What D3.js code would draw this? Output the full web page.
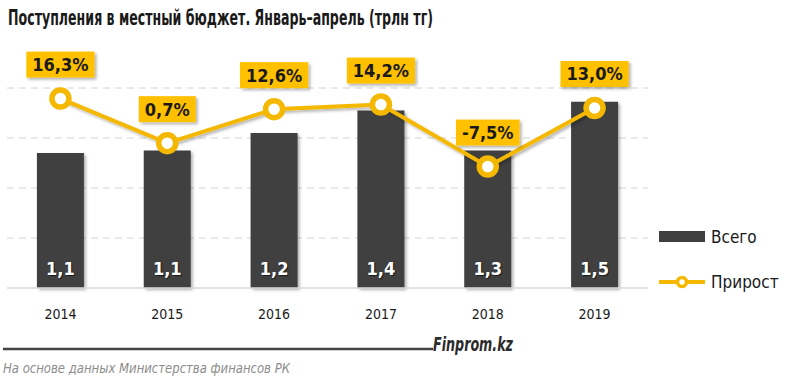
<!DOCTYPE html>
<html>
  <head>
    <meta charset="utf-8">
    <title>Поступления в местный бюджет</title>
    <script src="https://d3js.org/d3.v7.min.js"></script>
    <style>
      body { margin: 0; background: #fff; }
      text { font-family: "DejaVu Sans Condensed", "Liberation Sans", sans-serif; }
    </style>
  </head>
  <body>
    <script>
    // data
    var years = ["2014", "2015", "2016", "2017", "2018", "2019"]
    var total = [1.08, 1.10, 1.24, 1.42, 1.10, 1.49]      // bar heights as drawn (трлн тг)
    var totalLabels = ["1,1", "1,1", "1,2", "1,4", "1,3", "1,5"]
    var growth = [16.3, 0.7, 12.6, 14.2, -7.5, 13.0]      // прирост, %
    var leftTicks = [0, 0.4, 0.8, 1.2, 1.6]

    var width = 800,
        height = 386

    var svg = d3.select("body").append("svg")
                .attr("width", width)
                .attr("height", height)

    // soft shadows like the original
    var defs = svg.append("defs")
    defs.append("filter").attr("id", "shadow")
        .attr("x", "-20%").attr("y", "-20%").attr("width", "150%").attr("height", "150%")
      .append("feDropShadow")
        .attr("dx", 2).attr("dy", 2).attr("stdDeviation", 1.6)
        .attr("flood-color", "#000").attr("flood-opacity", 0.3)

    var x = d3.scaleBand()
              .domain(years)
              .range([7, 648])
              .paddingInner(0.56)
              .paddingOuter(0.28)

    var y = d3.scaleLinear().domain([0, 1.6]).range([288, 88])
    var y2 = d3.scaleLinear().domain([-50, 20]).range([288, 88])

    // title
    svg.append("text")
       .attr("x", 8).attr("y", 25)
       .attr("font-size", 21)
       .attr("font-weight", "bold")
       .attr("fill", "#1a1a1a")
       .attr("textLength", 425)
       .attr("lengthAdjust", "spacingAndGlyphs")
       .text("Поступления в местный бюджет. Январь–апрель (трлн тг)")

    // gridlines
    svg.append("g").selectAll("line")
       .data(leftTicks.slice(1))
       .enter().append("line")
       .attr("x1", 7).attr("x2", 648)
       .attr("y1", d => y(d)).attr("y2", d => y(d))
       .attr("stroke", "#d4d4d4")
       .attr("stroke-width", 1)
       .attr("stroke-dasharray", "7,5")

    // bars
    var bars = svg.append("g").selectAll(".bar")
                  .data(years)
                  .enter().append("g")
                  .attr("class", "bar")

    bars.append("rect")
        .attr("x", d => x(d))
        .attr("y", (d, i) => y(total[i]))
        .attr("width", x.bandwidth())
        .attr("height", (d, i) => y(0) - y(total[i]))
        .attr("fill", "#3f3f3f")
        .attr("filter", "url(#shadow)")

    bars.append("text")
        .attr("x", d => x(d) + x.bandwidth() / 2)
        .attr("y", 275)
        .attr("text-anchor", "middle")
        .attr("font-size", 18)
        .attr("font-weight", "bold")
        .attr("fill", "#fff")
        .style("text-shadow", "1px 1px 1px rgba(0,0,0,0.6)")
        .text((d, i) => totalLabels[i])

    // x axis
    var xAxis = svg.append("g")
       .attr("transform", "translate(0," + y(0) + ")")
       .call(d3.axisBottom(x).tickSize(0).tickPadding(21))
    xAxis.select(".domain").attr("stroke", "#d9d9d9").attr("stroke-width", 1.5)
       .attr("d", "M7,0H648")
    xAxis.selectAll("text")
       .attr("font-size", 14)
       .attr("fill", "#1a1a1a")
       .attr("font-family", "\"DejaVu Sans Condensed\", sans-serif")

    // growth line
    var cx = d => x(d) + x.bandwidth() / 2
    var line = d3.line()
                 .x(d => cx(d))
                 .y((d, i) => y2(growth[i]))

    svg.append("path")
       .datum(years)
       .attr("d", line)
       .attr("fill", "none")
       .attr("stroke", "#f5b800")
       .attr("stroke-width", 4)
       .attr("filter", "url(#shadow)")

    svg.append("g").selectAll("circle")
       .data(years)
       .enter().append("circle")
       .attr("cx", cx)
       .attr("cy", (d, i) => y2(growth[i]))
       .attr("r", 8.5)
       .attr("fill", "#fff")
       .attr("stroke", "#f5b800")
       .attr("stroke-width", 5.5)

    // growth labels in yellow boxes
    var fmt = v => v.toFixed(1).replace(".", ",") + "%"
    var labels = svg.append("g").selectAll("g")
                    .data(years)
                    .enter().append("g")
                    .attr("transform", (d, i) => "translate(" + cx(d) + "," + (y2(growth[i]) - 34) + ")")

    var boxes = labels.append("rect")
                      .attr("fill", "#ffc000")
                      .attr("filter", "url(#shadow)")

    var ltxt = labels.append("text")
          .attr("text-anchor", "middle")
          .attr("dy", "0.36em")
          .attr("font-size", 18)
          .attr("font-weight", "bold")
          .attr("fill", "#1a1a1a")
          .text((d, i) => fmt(growth[i]))

    ltxt.each(function(d, i) {
      var w = this.getComputedTextLength() + 12
      d3.select(boxes.nodes()[i])
        .attr("x", -w / 2).attr("y", -13)
        .attr("width", w).attr("height", 26)
    })

    // legend
    var legend = svg.append("g")
    legend.append("rect")
          .attr("x", 659).attr("y", 231)
          .attr("width", 46).attr("height", 11)
          .attr("fill", "#3f3f3f")
    legend.append("text")
          .attr("x", 711).attr("y", 237).attr("dy", "0.35em")
          .attr("font-size", 17).attr("fill", "#1a1a1a")
          .text("Всего")
    legend.append("line")
          .attr("x1", 659).attr("x2", 705)
          .attr("y1", 282).attr("y2", 282)
          .attr("stroke", "#f5b800").attr("stroke-width", 4)
    legend.append("circle")
          .attr("cx", 682).attr("cy", 282).attr("r", 4.5)
          .attr("fill", "#fff").attr("stroke", "#f5b800").attr("stroke-width", 3.5)
    legend.append("text")
          .attr("x", 711).attr("y", 282).attr("dy", "0.35em")
          .attr("font-size", 17).attr("fill", "#1a1a1a")
          .text("Прирост")

    // footer
    svg.append("line")
       .attr("x1", 3).attr("x2", 433)
       .attr("y1", 349).attr("y2", 349)
       .attr("stroke", "#444").attr("stroke-width", 2.5)
    svg.append("text")
       .attr("x", 433).attr("y", 351)
       .attr("font-size", 20).attr("font-weight", "bold").attr("font-style", "italic")
       .attr("fill", "#2b2b2b")
       .attr("textLength", 80)
       .attr("lengthAdjust", "spacingAndGlyphs")
       .text("Finprom.kz")
    svg.append("text")
       .attr("x", 3).attr("y", 373)
       .attr("font-size", 14).attr("font-style", "italic")
       .attr("fill", "#8c8c8c")
       .attr("textLength", 287)
       .attr("lengthAdjust", "spacingAndGlyphs")
       .text("На основе данных Министерства финансов РК")
    </script>
  </body>
</html>
